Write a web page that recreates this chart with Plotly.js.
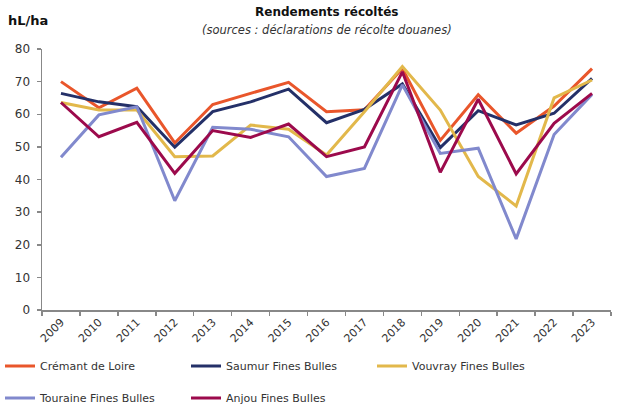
<!DOCTYPE html>
<html><head><meta charset="utf-8">
<script src="https://cdn.plot.ly/plotly-3.0.1.min.js"></script>
<style>html,body{margin:0;padding:0;background:#fff}#chart{width:618px;height:405px}</style>
</head><body><div id="chart"></div>
<script>
const years = ['2009','2010','2011','2012','2013','2014','2015','2016','2017','2018','2019','2020','2021','2022','2023'];
const cremant  = [70.0, 62.0, 68.0, 51.2, 63.0, 66.5, 69.8, 60.8, 61.4, 74.0, 52.0, 66.0, 54.2, 62.5, 74.0];
const saumur   = [66.4, 63.8, 62.3, 49.9, 60.8, 63.8, 67.7, 57.4, 61.5, 69.3, 49.8, 61.1, 56.7, 60.3, 71.0];
const vouvray  = [63.6, 61.3, 61.3, 47.0, 47.2, 56.7, 55.4, 47.5, 60.8, 74.6, 61.3, 40.9, 31.9, 65.0, 70.5];
const touraine = [46.8, 59.8, 62.3, 33.5, 56.0, 55.4, 53.1, 40.9, 43.4, 69.0, 48.0, 49.6, 21.8, 53.8, 66.1];
const anjou    = [63.6, 53.1, 57.5, 41.9, 55.0, 52.9, 57.0, 47.0, 50.0, 73.0, 42.2, 64.6, 41.7, 57.2, 66.4];
const yTicks = [0,10,20,30,40,50,60,70,80];

const FONT = 'DejaVu Sans, sans-serif';
function tr(name, y, color, legend){
  return {type:'scatter', mode:'lines', x:years, y:y, name:name,
    line:{color:color, width:3}, legend:legend};
}
const data = [
  tr('Crémant de Loire', cremant, '#E9562B', 'legend'),
  tr('Saumur Fines Bulles', saumur, '#243068', 'legend'),
  tr('Vouvray Fines Bulles', vouvray, '#E2B84B', 'legend'),
  tr('Touraine Fines Bulles', touraine, '#8189CD', 'legend2'),
  tr('Anjou Fines Bulles', anjou, '#9C0A4C', 'legend2')
];
const legBase = {orientation:'h', xref:'container', yref:'container', x:0, xanchor:'left', yanchor:'middle',
  entrywidth:141, font:{family:FONT, size:11, color:'#333'}, bgcolor:'rgba(0,0,0,0)', traceorder:'normal'};
const layout = {
  width:618, height:405,
  margin:{l:42, r:7, t:49, b:95, autoexpand:false},
  paper_bgcolor:'#fff', plot_bgcolor:'#fff',
  font:{family:FONT, size:11, color:'#333'},
  showlegend:true,
  xaxis:{type:'category', tickson:'boundaries', ticks:'outside', ticklen:4, tickcolor:'#888', tickwidth:1.5,
    showline:true, linecolor:'#888', linewidth:1.5, showgrid:false, zeroline:false,
    tickangle:-45, tickfont:{family:FONT, size:11, color:'#333'}, range:[-0.5,14.5]},
  yaxis:{range:[0,80], tickvals:yTicks, ticks:'outside', ticklen:4, tickcolor:'#888', tickwidth:1.5,
    showline:true, linecolor:'#888', linewidth:1.5, showgrid:false, zeroline:false,
    ticklabelstandoff:4, tickfont:{family:FONT, size:12, color:'#333'}},
  legend:Object.assign({}, legBase, {y:1-366/405}),
  legend2:Object.assign({}, legBase, {y:1-398/405}),
  annotations:[
    {text:'<b>Rendements récoltés</b>', xref:'paper', yref:'paper', x:0.5, y:(310-12)/261, xanchor:'center', yanchor:'middle',
      showarrow:false, font:{family:FONT, size:12, color:'#111'}},
    {text:'<i>(sources : déclarations de récolte douanes)</i>', xref:'paper', yref:'paper', x:0.5, y:(310-30)/261, xanchor:'center', yanchor:'middle',
      showarrow:false, font:{family:FONT, size:11.5, color:'#333'}},
    {text:'<b>hL/ha</b>', xref:'paper', yref:'paper', x:(6-42)/569, y:(310-21)/261, xanchor:'left', yanchor:'middle',
      showarrow:false, font:{family:FONT, size:13, color:'#111'}}
  ]
};
Plotly.newPlot('chart', data, layout, {displayModeBar:false, staticPlot:true});
</script></body></html>
